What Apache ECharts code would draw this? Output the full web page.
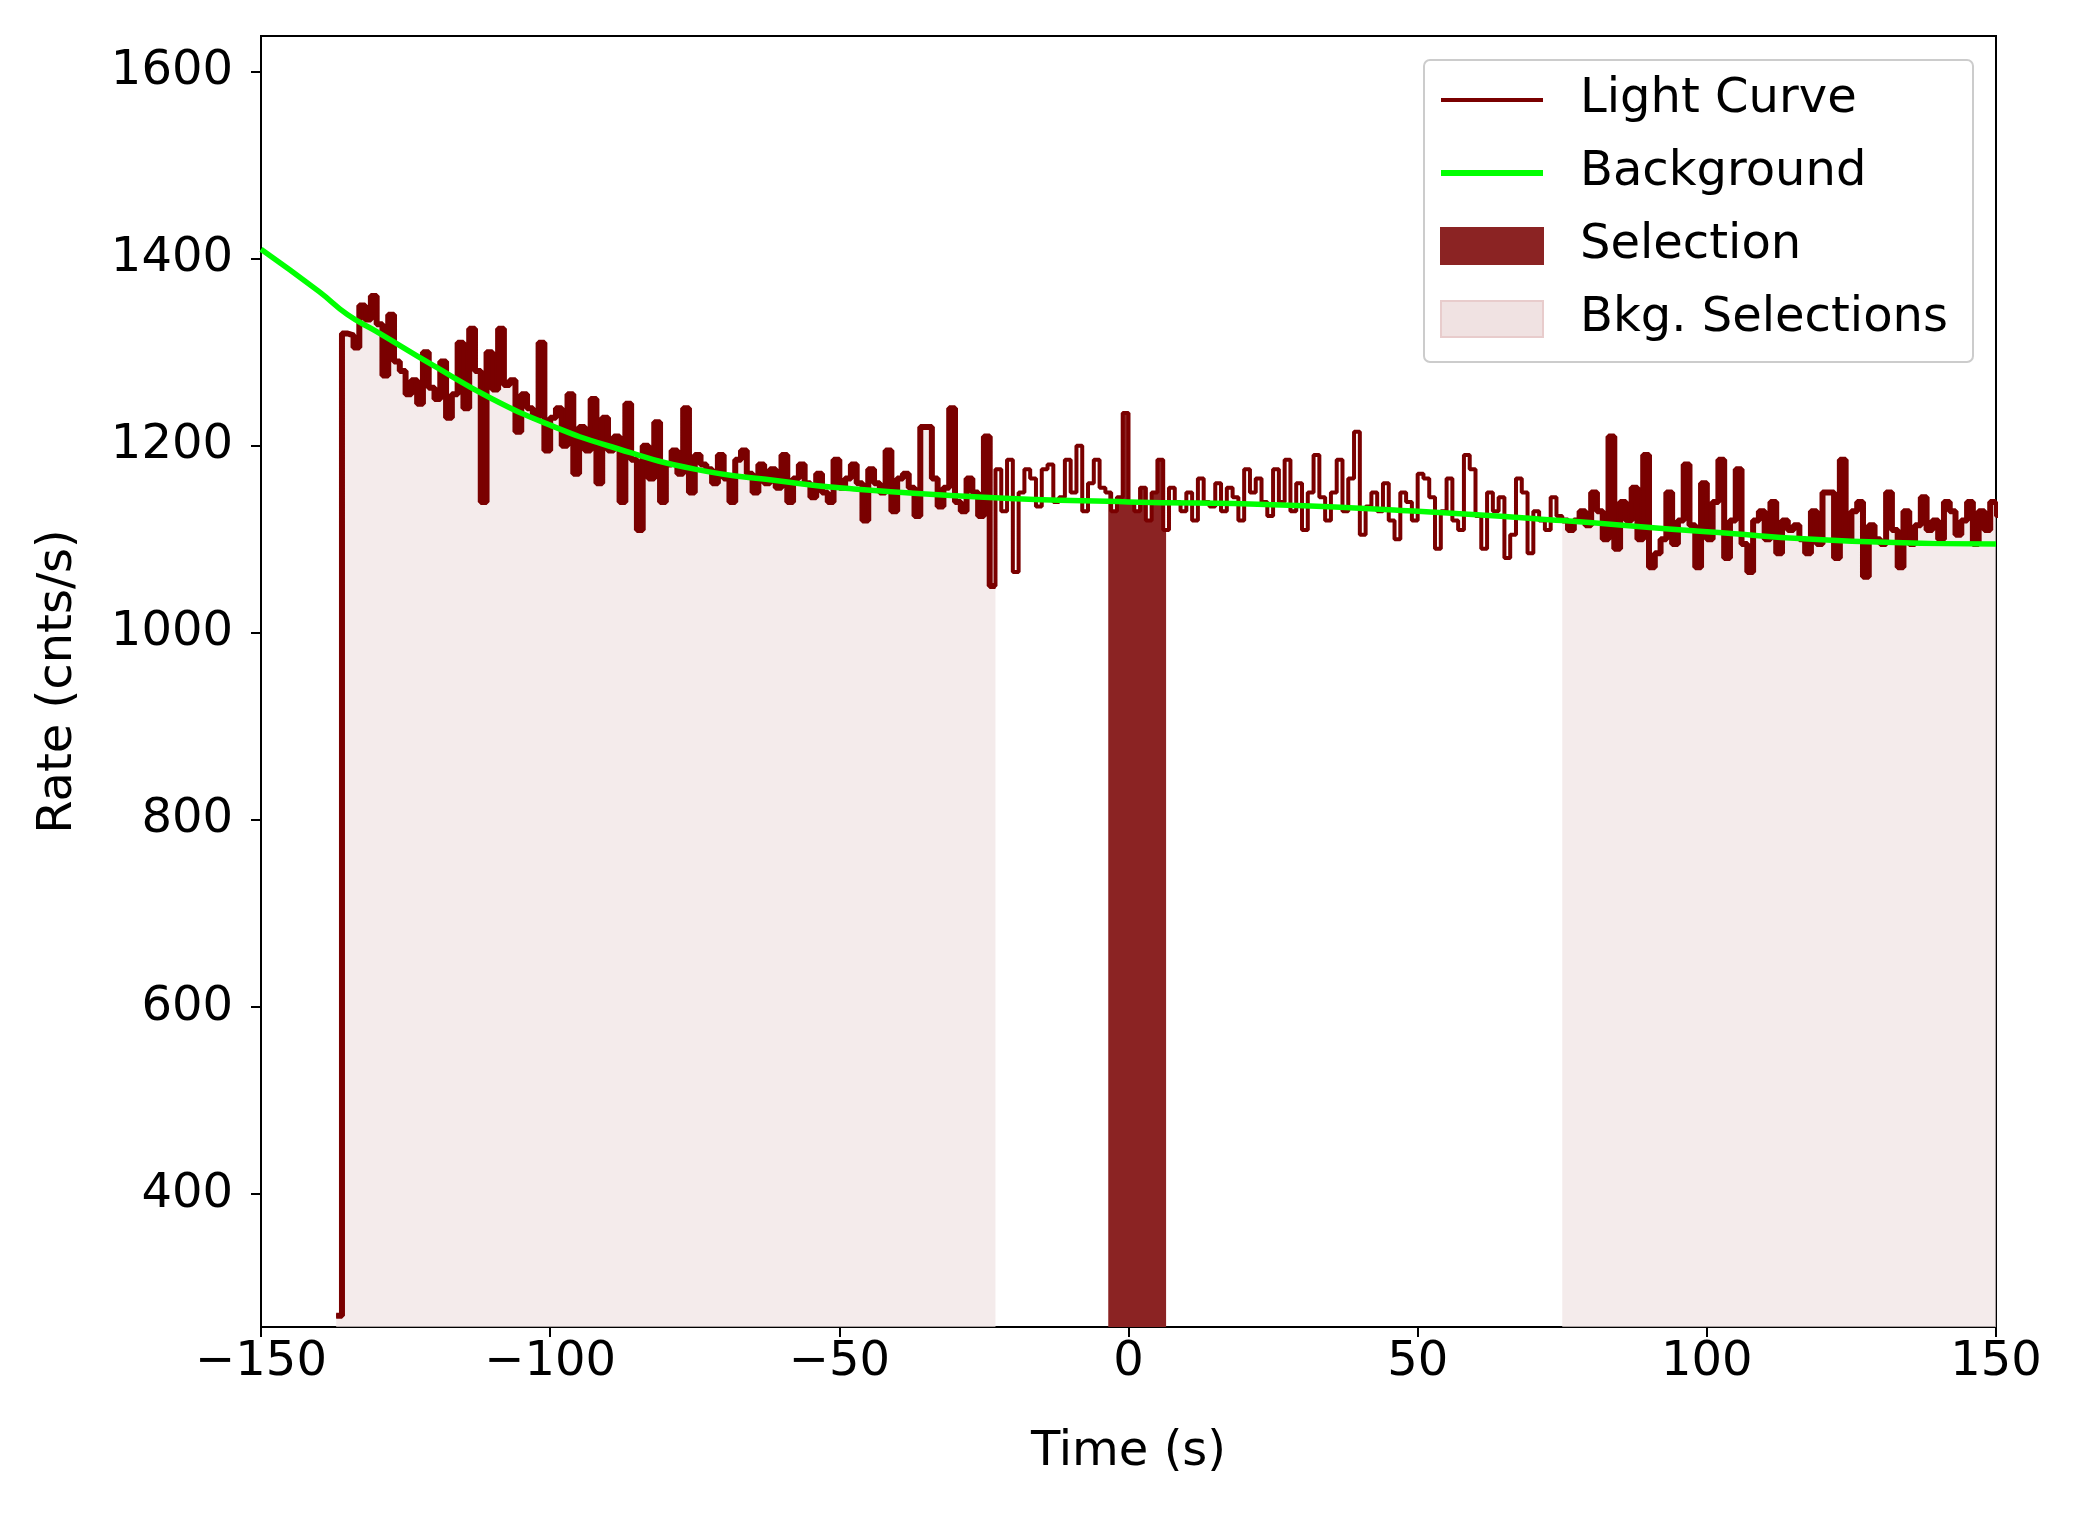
<!DOCTYPE html>
<html><head><meta charset="utf-8">
<script src="https://cdn.jsdelivr.net/npm/echarts@6/dist/echarts.min.js"></script>
<style>html,body{margin:0;padding:0;background:#fff}#c{width:2077px;height:1513px}</style>
</head><body><div id="c"></div>
<script>
const lcStart = -137;
const lcRates = [270,
1320,1318,1305,1350,1335,1360,1330,1275,1340,1290,
1280,1255,1270,1245,1300,1262,1250,1290,1230,1255,
1310,1240,1325,1280,1140,1300,1260,1325,1265,1270,
1215,1255,1240,1230,1310,1195,1230,1240,1200,1255,
1170,1220,1195,1250,1160,1230,1195,1210,1140,1245,
1185,1110,1200,1165,1225,1140,1180,1195,1170,1240,
1150,1190,1180,1175,1160,1190,1165,1140,1185,1195,
1170,1150,1180,1160,1175,1155,1190,1140,1165,1180,
1160,1145,1170,1150,1140,1185,1155,1165,1180,1160,
1120,1175,1160,1150,1195,1130,1165,1170,1155,1125,
1220,1220,1165,1135,1155,1240,1140,1130,1165,1150,
1125,1210,1050,1175,1130,1185,1065,1150,1175,1165,
1135,1175,1180,1140,1145,1185,1150,1200,1130,1160,
1185,1155,1150,1130,1145,1235,1140,1130,1155,1120,
1150,1185,1110,1155,1140,1130,1150,1120,1165,1140,
1135,1160,1130,1155,1145,1120,1175,1150,1165,1140,
1125,1175,1140,1185,1130,1160,1110,1150,1190,1145,
1120,1150,1185,1130,1165,1215,1105,1135,1150,1130,
1160,1120,1100,1150,1140,1120,1170,1165,1145,1090,
1130,1165,1120,1110,1190,1175,1125,1090,1150,1130,
1145,1080,1105,1165,1150,1085,1130,1120,1110,1145,
1125,1120,1110,1120,1130,1115,1150,1130,1100,1210,
1090,1140,1120,1155,1100,1190,1070,1085,1100,1150,
1095,1120,1180,1115,1070,1160,1100,1140,1185,1080,
1120,1175,1095,1065,1120,1130,1100,1140,1085,1120,
1110,1115,1100,1085,1130,1095,1150,1150,1080,1185,
1100,1130,1140,1060,1115,1100,1095,1150,1110,1070,
1130,1095,1115,1145,1110,1120,1100,1140,1130,1105,
1120,1140,1095,1130,1110,1140,1125];
const bkgTimes = [-150,-140,-135,-130,-120,-110,-100,-90,-75,-60,-50,-25,0,25,50,75,100,125,150];
const bkgRates = [1410,1365,1340,1322,1285,1250,1222,1200,1175,1162,1155,1145,1140,1137,1130,1120,1108,1098,1095];
const bkgSelections = [[-137,-23],[75,150]];
const srcSelection = [-3.5,6.5];
const yTicks = [400,600,800,1000,1200,1400,1600];

const lcPts = lcRates.map((v,i)=>[lcStart+i, v]);
lcPts.push([lcStart+lcRates.length, lcRates[lcRates.length-1]]);
function slice(a,b){
  const out=[];
  lcRates.forEach((v,i)=>{const t=lcStart+i; if(t>=Math.ceil(a) && t<b) out.push([t,v]);});
  if(a<out[0][0]) out.unshift([a,lcRates[Math.floor(a)-lcStart]]);
  const last=out[out.length-1]; out.push([b,last[1]]);
  return out;
}
const series=[];
bkgSelections.forEach(([a,b])=>{
  series.push({type:'line',step:'end',data:slice(a,b),symbol:'none',z:3,
    lineStyle:{color:'#7a0000',width:6},
    areaStyle:{color:'rgba(240,226,226,1)',origin:'start'}});
});
series.push({type:'line',step:'end',data:slice(srcSelection[0],srcSelection[1]),symbol:'none',z:2,
  lineStyle:{width:0},areaStyle:{color:'#8b2323',opacity:1,origin:'start'}});
series.push({type:'line',step:'end',data:lcPts,symbol:'none',z:4,lineStyle:{color:'#7a0000',width:4}});
series.push({type:'line',smooth:true,data:bkgTimes.map((t,i)=>[t,bkgRates[i]]),symbol:'none',z:5,
  lineStyle:{color:'#00ff00',width:5.5}});

const F='DejaVu Sans';
const lx=1424, ly=60;
const legendItems=[
  {name:'Light Curve',kind:'line',color:'#7a0000'},
  {name:'Background',kind:'line',color:'#00ff00'},
  {name:'Selection',kind:'rect',color:'#8b2323'},
  {name:'Bkg. Selections',kind:'rect',color:'rgba(240,226,226,1)'}];
const g=[{type:'rect',shape:{x:lx,y:ly,width:549,height:302,r:6},style:{fill:'rgba(255,255,255,0.85)',stroke:'#cccccc',lineWidth:2},z:10}];
legendItems.forEach((it,i)=>{
  const cy=ly+40+i*73;
  if(it.kind==='line') g.push({type:'line',shape:{x1:lx+17,y1:cy,x2:lx+119,y2:cy},style:{stroke:it.color,lineWidth:it.color==='#00ff00'?6:4},z:11});
  else g.push({type:'rect',shape:{x:lx+17,y:cy-18,width:102,height:36},style:{fill:it.color,stroke:i===3?'#e8cccc':it.color,lineWidth:2},z:11});
  g.push({type:'text',x:lx+156,y:cy,style:{text:it.name,font:'48px "'+F+'"',fill:'#000',textVerticalAlign:'middle'},z:11});
});

const chart=echarts.init(document.getElementById('c'));
chart.setOption({
  animation:false,
  grid:{left:261,right:81,top:36,bottom:186,show:true,borderColor:'#000',borderWidth:2,backgroundColor:'transparent'},
  xAxis:{type:'value',min:-150,max:150,interval:50,name:'Time (s)',nameLocation:'middle',nameGap:102,
    nameTextStyle:{fontFamily:F,fontSize:48,color:'#000'},
    axisLine:{onZero:false,lineStyle:{color:'#000',width:2}},axisTick:{length:10,lineStyle:{color:'#000',width:2}},
    axisLabel:{fontFamily:F,fontSize:48,color:'#000',margin:12,formatter:v=>String(v).replace('-','\u2212')},splitLine:{show:false}},
  yAxis:{type:'value',min:258,max:1638,name:'Rate (cnts/s)',nameLocation:'middle',nameGap:178,
    nameTextStyle:{fontFamily:F,fontSize:48,color:'#000'},
    axisLine:{show:true,onZero:false,lineStyle:{color:'#000',width:2}},
    axisTick:{show:true,length:10,lineStyle:{color:'#000',width:2},customValues:yTicks},
    axisLabel:{fontFamily:F,fontSize:48,color:'#000',margin:28,customValues:yTicks,formatter:v=>String(v)},splitLine:{show:false}},
  series,
  graphic:g
});
</script></body></html>
